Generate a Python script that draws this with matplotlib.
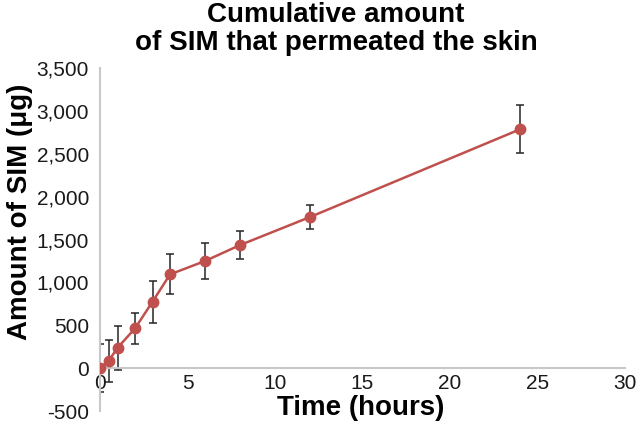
import matplotlib
matplotlib.use("Agg")
import matplotlib.pyplot as plt
from matplotlib.ticker import FuncFormatter

time_h = [0, 0.5, 1, 2, 3, 4, 6, 8, 12, 24]
amount = [0, 85, 237, 463, 774, 1093, 1249, 1435, 1762, 2785]
err = [280, 245, 257, 184, 243, 233, 210, 160, 140, 278]
x_ticks = [0, 5, 10, 15, 20, 25, 30]
y_ticks = [-500, 0, 500, 1000, 1500, 2000, 2500, 3000, 3500]

plt.rcParams['font.family'] = ['Liberation Sans', 'DejaVu Sans']

fig = plt.figure(figsize=(6.37, 4.36), dpi=100)
ax = fig.add_axes([100/637, 1-411/436, 525/637, 343/436])

ax.errorbar(time_h, amount, yerr=err, fmt='none', ecolor='#262626',
            elinewidth=1.1, capsize=3.2, capthick=1.1, zorder=2)
ax.plot(time_h, amount, color='#C0504D', lw=1.8, marker='o', ms=7.5,
        zorder=3)

ax.set_xlim(0, 30)
ax.set_ylim(-500, 3500)
ax.set_xticks(x_ticks)
ax.set_yticks(y_ticks)
ax.yaxis.set_major_formatter(FuncFormatter(lambda v, p: f"{int(v):,}"))

for s in ['top', 'right']:
    ax.spines[s].set_visible(False)
ax.spines['bottom'].set_position(('data', 0))
ax.spines['bottom'].set_color('#C8C8C8')
ax.spines['left'].set_color('#C8C8C8')
ax.spines['bottom'].set_linewidth(1.5)
ax.spines['left'].set_linewidth(1.5)
ax.tick_params(axis='both', length=0, labelsize=15, colors='#1a1a1a')
ax.tick_params(axis='y', pad=8)
ax.tick_params(axis='x', pad=4)

fig.text(20/637, 1-212/436, 'Amount of SIM (μg)', rotation=90, ha='center',
         va='center', fontsize=20, fontweight='bold')
fig.text(361/637, 1-408/436, 'Time (hours)', ha='center', va='center',
         fontsize=20, fontweight='bold')
fig.text(336/637, 1-29/436, 'Cumulative amount\nof SIM that permeated the skin',
         ha='center', va='center', fontsize=20, fontweight='bold',
         linespacing=1.05)

fig.savefig('out.png', dpi=100)
